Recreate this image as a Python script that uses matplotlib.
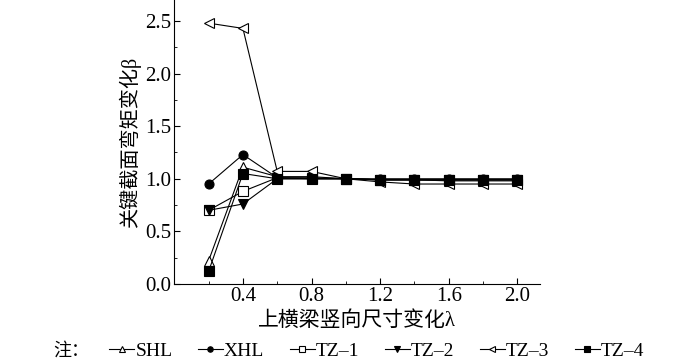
import matplotlib
matplotlib.use('Agg')
import matplotlib.pyplot as plt
from matplotlib.ticker import MultipleLocator

plt.rcParams['font.family'] = ['Liberation Serif', 'Noto Sans CJK SC']

# data
x = [0.2, 0.4, 0.6, 0.8, 1.0, 1.2, 1.4, 1.6, 1.8, 2.0]
shl = [0.22, 1.11, 1.02, 1.02, 1.0, 0.99, 0.99, 0.98, 0.98, 0.98]
xhl = [0.95, 1.23, 1.01, 1.0, 1.0, 1.0, 1.0, 1.0, 1.0, 1.0]
tz1 = [0.70, 0.88, 1.01, 1.01, 1.0, 0.99, 0.99, 0.99, 0.99, 0.99]
tz2 = [0.70, 0.76, 1.0, 1.0, 1.0, 0.99, 0.99, 0.99, 0.99, 0.99]
tz3 = [2.48, 2.43, 1.07, 1.07, 1.0, 0.97, 0.95, 0.95, 0.95, 0.95]
tz4 = [0.12, 1.05, 1.0, 1.0, 1.0, 0.99, 0.99, 0.99, 0.99, 0.99]

series = [
    ('SHL', shl, '^', 'white'),
    ('XHL', xhl, 'o', 'black'),
    ('TZ-1', tz1, 's', 'white'),
    ('TZ-2', tz2, 'v', 'black'),
    ('TZ-3', tz3, '<', 'white'),
    ('TZ-4', tz4, 's', 'black'),
]

fig = plt.figure(figsize=(7, 3.64), dpi=100)
ax = fig.add_axes([0.249, 0.22, 0.522, 0.78])

for name, vals, mk, fc in series:
    ax.plot(x, vals, color='black', linewidth=0.8, marker=mk, markersize=6.5,
            markerfacecolor=fc, markeredgecolor='black', markeredgewidth=0.8,
            label=name.replace('-', '\u2013'))

ax.set_xlim(0, 2.13)
ax.set_ylim(0, 2.7)
ax.xaxis.set_major_locator(MultipleLocator(0.4))
ax.xaxis.set_minor_locator(MultipleLocator(0.2))
ax.yaxis.set_major_locator(MultipleLocator(0.5))
ax.yaxis.set_minor_locator(MultipleLocator(0.25))
ax.set_xticks([0.4, 0.8, 1.2, 1.6, 2.0])
ax.tick_params(which='both', direction='in', labelsize=15, pad=2)
ax.tick_params(which='major', length=4)
ax.tick_params(which='minor', length=2)
ax.spines['top'].set_visible(False)
ax.spines['right'].set_visible(False)

ax.set_xlabel('上横梁竖向尺寸变化λ', fontsize=15, labelpad=4)
ax.set_ylabel('关键截面弯矩变化β', fontsize=14.5, labelpad=3)

fig.text(0.076, 0.035, '注：', fontsize=13, va='center')
fig.legend(loc='center', bbox_to_anchor=(0.538, 0.035), ncol=6, frameon=False,
           fontsize=14, handlelength=1.3, handletextpad=0.05, columnspacing=1.3,
           markerscale=0.6, borderpad=0, borderaxespad=0)

fig.savefig('out.png', dpi=100)
